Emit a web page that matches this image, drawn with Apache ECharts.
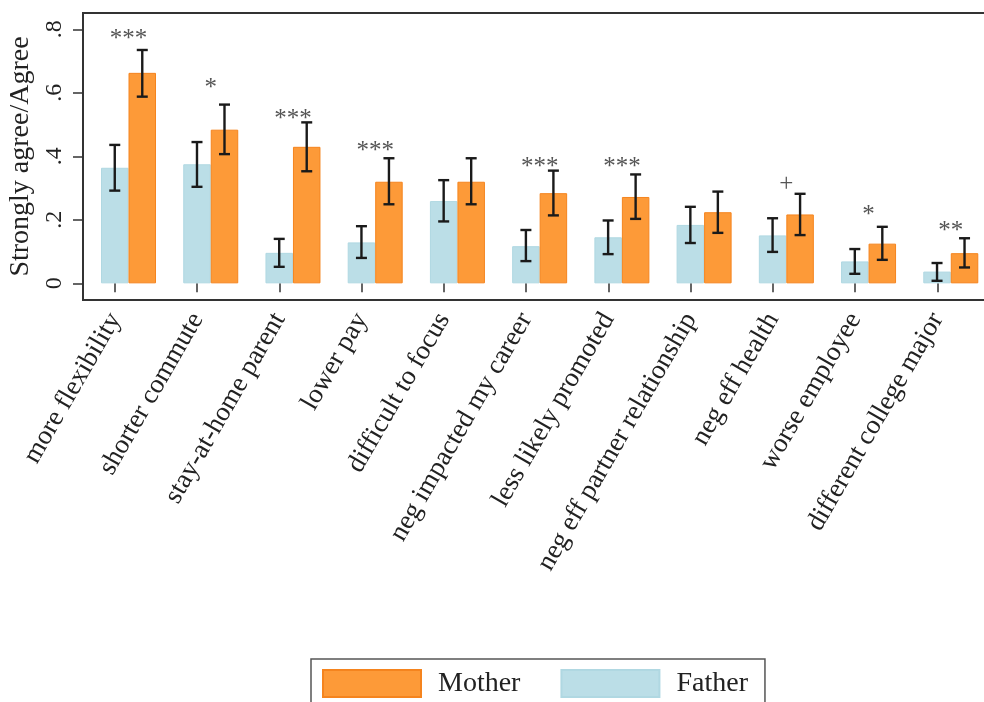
<!DOCTYPE html>
<html>
<head>
<meta charset="utf-8">
<script src="https://cdn.jsdelivr.net/npm/echarts@6/dist/echarts.min.js"></script>
<style>
html,body{margin:0;padding:0;background:#fff;}
#chart{width:984px;height:702px;}
</style>
</head>
<body>
<div id="chart"></div>
<script>
const categories = ['more flexibility','shorter commute','stay-at-home parent','lower pay','difficult to focus','neg impacted my career','less likely promoted','neg eff partner relationship','neg eff health','worse employee','different college major'];
const father   = [0.364,0.375,0.096,0.129,0.259,0.117,0.145,0.184,0.151,0.069,0.037];
const fatherLo = [0.292,0.304,0.052,0.080,0.195,0.070,0.092,0.127,0.099,0.030,0.008];
const fatherHi = [0.436,0.445,0.140,0.180,0.325,0.168,0.198,0.241,0.205,0.108,0.064];
const mother   = [0.663,0.484,0.430,0.320,0.320,0.284,0.272,0.224,0.217,0.125,0.095];
const motherLo = [0.588,0.407,0.353,0.249,0.249,0.214,0.203,0.159,0.152,0.074,0.050];
const motherHi = [0.735,0.563,0.507,0.394,0.394,0.355,0.343,0.289,0.282,0.178,0.142];
const sigMarks = ['***','*','***','***','','***','***','','+','*','**'];
const sigY     = [0.785,0.629,0.532,0.432,null,0.382,0.382,null,0.310,0.231,0.178];
const yTickValues = [0,0.2,0.4,0.6,0.8];
const yTickLabels = ['0','.2','.4','.6','.8'];
const yMin = -0.0525, yMax = 0.8515;

const FONT = '"Liberation Serif", "DejaVu Serif", serif';
const BAR_W = 27.5;
const CAP = 5.5;

const chart = echarts.init(document.getElementById('chart'), null, {renderer:'canvas'});

function errRender(offsetSign){
  return function(params, api){
    const i = api.value(0);
    const pLo = api.coord([i, api.value(1)]);
    const pHi = api.coord([i, api.value(2)]);
    const x = pLo[0] + offsetSign * BAR_W / 2;
    const st = {stroke:'#1a1a1a', lineWidth:2.4, lineCap:'butt'};
    return {type:'group', children:[
      {type:'line', shape:{x1:x,y1:pLo[1],x2:x,y2:pHi[1]}, style:st},
      {type:'line', shape:{x1:x-CAP,y1:pLo[1],x2:x+CAP,y2:pLo[1]}, style:st},
      {type:'line', shape:{x1:x-CAP,y1:pHi[1],x2:x+CAP,y2:pHi[1]}, style:st}
    ]};
  };
}

const fatherErr = categories.map((c,i)=>[i, fatherLo[i], fatherHi[i]]);
const motherErr = categories.map((c,i)=>[i, motherLo[i], motherHi[i]]);
const sigData = categories.map((c,i)=>[i, sigY[i] == null ? 0 : sigY[i], sigMarks[i]]).filter(d=>d[2] !== '');

const option = {
  animation:false,
  backgroundColor:'#fff',
  grid:[
    {left:87.4, width:904.5, top:13, bottom:402, containLabel:false, outerBoundsMode:'none'},
    {left:83, right:-5, top:13, bottom:402, show:true, borderColor:'#333', borderWidth:2, backgroundColor:'transparent', containLabel:false, outerBoundsMode:'none'},
    {left:73.9, width:904.5, top:13, bottom:402, containLabel:false, outerBoundsMode:'none'}
  ],
  xAxis:[
    {type:'category', gridIndex:0, data:categories, show:false},
    {type:'value', gridIndex:1, show:false, min:0, max:1},
    {type:'category', gridIndex:2, data:categories,
      axisLine:{show:false},
      axisTick:{show:true, alignWithLabel:true, length:9, lineStyle:{color:'#333', width:1.5}},
      axisLabel:{rotate:60, interval:0, margin:15, fontFamily:FONT, fontSize:27, color:'#222'}
    }
  ],
  yAxis:[
    {type:'value', gridIndex:0, min:yMin, max:yMax, show:false},
    {type:'value', gridIndex:1, min:yMin, max:yMax,
      name:'Strongly agree/Agree', nameLocation:'middle', nameGap:45, nameRotate:90,
      nameTextStyle:{fontFamily:FONT, fontSize:28, color:'#222'},
      axisLine:{show:false},
      splitLine:{show:false},
      axisTick:{show:true, length:10, customValues:yTickValues, lineStyle:{color:'#333', width:1.5}},
      axisLabel:{rotate:90, margin:16, fontFamily:FONT, fontSize:24, color:'#222',
        customValues:yTickValues,
        formatter:function(v){ const k = yTickValues.findIndex(t=>Math.abs(t-v)<1e-9); return k>=0 ? yTickLabels[k] : ''; }}
    },
    {type:'value', gridIndex:2, min:yMin, max:yMax, show:false}
  ],
  legend:{
    data:['Mother','Father'],
    left:311, top:659,
    orient:'horizontal',
    itemWidth:98, itemHeight:27, itemGap:40,
    borderColor:'#555', borderWidth:1.5, borderRadius:0,
    padding:[10,17,10,11],
    icon:'rect',
    textStyle:{fontFamily:FONT, fontSize:28, color:'#222', padding:[0,0,0,12]}
  },
  series:[
    {name:'Father', type:'bar', xAxisIndex:0, yAxisIndex:0, data:father, barWidth:BAR_W, barGap:'0%',
      itemStyle:{color:'#BBDEE7', borderColor:'#B0D8E2', borderWidth:1}},
    {name:'Mother', type:'bar', xAxisIndex:0, yAxisIndex:0, data:mother, barWidth:BAR_W, barGap:'0%',
      itemStyle:{color:'#FD9A38', borderColor:'#F5841E', borderWidth:1}},
    {name:'fErr', type:'custom', xAxisIndex:0, yAxisIndex:0, data:fatherErr, renderItem:errRender(-1), z:5},
    {name:'mErr', type:'custom', xAxisIndex:0, yAxisIndex:0, data:motherErr, renderItem:errRender(1), z:5},
    {name:'sig', type:'custom', xAxisIndex:0, yAxisIndex:0, data:sigData, z:6,
      renderItem:function(params, api){
        const i = api.value(0);
        const p = api.coord([i, api.value(1)]);
        const txt = sigData[params.dataIndex][2];
        return {type:'text', x:p[0], y:p[1] + (txt==='+'? 0 : 5),
          style:{text:txt, font:'25px ' + FONT, fill:'#555', align:'center', verticalAlign:'middle'}};
      }}
  ]
};
chart.setOption(option);
</script>
</body>
</html>
